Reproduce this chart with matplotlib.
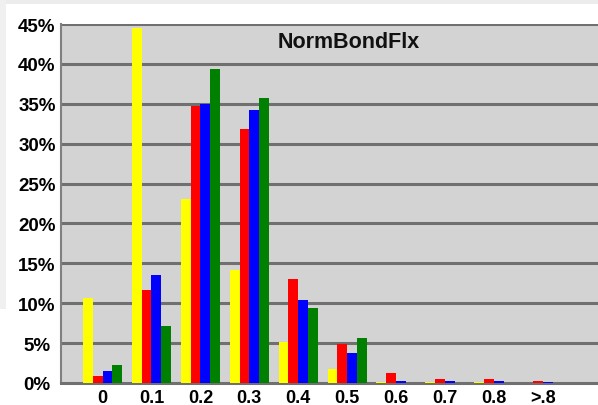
import matplotlib
matplotlib.use("Agg")
import matplotlib.pyplot as plt
import numpy as np
from matplotlib.patches import Rectangle

categories = ["0", "0.1", "0.2", "0.3", "0.4", "0.5", "0.6", "0.7", "0.8", ">.8"]
yellow = [10.6, 44.5, 23.1, 14.2, 5.2, 1.7, 0.1, 0.1, 0.1, 0.05]
red = [0.9, 11.7, 34.7, 31.9, 13.0, 4.9, 1.2, 0.45, 0.45, 0.2]
blue = [1.5, 13.6, 35.0, 34.2, 10.4, 3.8, 0.25, 0.3, 0.3, 0.1]
green = [2.2, 7.2, 39.3, 35.7, 9.4, 5.7, 0.05, 0.05, 0.05, 0.05]
yticks = [0, 5, 10, 15, 20, 25, 30, 35, 40, 45]
title = "NormBondFlx"

series = [(yellow, "#ffff00"), (red, "#ff0000"), (blue, "#0000ff"), (green, "#008000")]

W, H = 598, 406
fig = plt.figure(figsize=(W / 100, H / 100), dpi=100)
fig.patch.set_facecolor("white")
# light grey frame strips
fig.add_artist(Rectangle((0, 1 - 5 / H), 1, 5 / H, transform=fig.transFigure,
                         facecolor="#ececec", edgecolor="none", zorder=0))
fig.add_artist(Rectangle((0, 1 - 310 / H), 6 / W, 310 / H, transform=fig.transFigure,
                         facecolor="#f0f0f0", edgecolor="none", zorder=0))

left, right = 61 / W, 1.0
bottom, top = 1 - 384 / H, 1 - 25 / H
ax = fig.add_axes([left, bottom, right - left, top - bottom])
ax.set_facecolor("#d3d3d3")

x = np.arange(len(categories))
bw = 0.2
offsets = [-0.3, -0.1, 0.1, 0.3]
for (vals, col), off in zip(series, offsets):
    ax.bar(x + off, vals, width=bw, color=col, edgecolor="none", zorder=3)

ax.set_ylim(0, 45)
ax.set_xlim(-0.85, 10.13)
ax.set_yticks(yticks)
ax.set_yticklabels([f"{v}%" for v in yticks], fontsize=13.5, fontweight="bold",
                   family="Liberation Sans", ha="center")
ax.set_xticks(x)
ax.set_xticklabels(categories, fontsize=13, fontweight="bold", family="Liberation Sans")
ax.tick_params(length=0)
ax.tick_params(axis="y", pad=17.3)
ax.tick_params(axis="x", pad=4)
for yv in yticks[1:]:
    ax.axhline(yv, color="#707070", lw=2.2, zorder=1)
for s in ["top", "right"]:
    ax.spines[s].set_visible(False)
ax.spines["left"].set_color("#808080")
ax.spines["left"].set_linewidth(1.5)
ax.spines["bottom"].set_color("#707070")
ax.spines["bottom"].set_linewidth(2.2)

ax.text(349 / W, 1 - 43 / H, title, transform=fig.transFigure, ha="center", va="center",
        fontsize=15.5, fontweight="bold", family="Liberation Sans", color="#111111")

fig.savefig("out.png", dpi=100)
